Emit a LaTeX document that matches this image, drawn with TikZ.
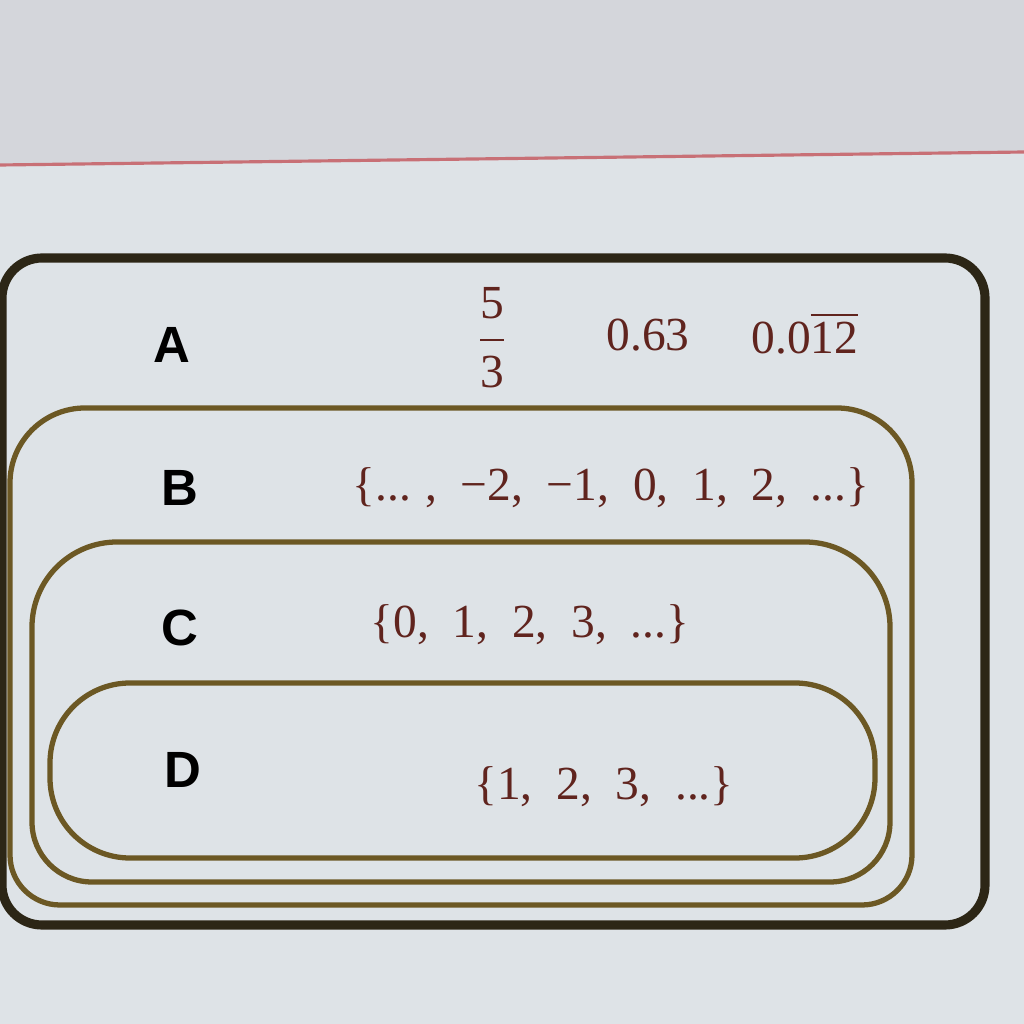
\documentclass[tikz,border=0pt]{standalone}
\usepackage{amsmath}
\usepackage{fontspec}
\setmainfont{Liberation Serif}
\newfontfamily\letterfont{Liberation Sans}
\newfontfamily\memberfont[WordSpace=2]{Liberation Serif}
\usepackage{tikz}
\usetikzlibrary{positioning,calc}

\definecolor{screenbg}{RGB}{222,227,231}
\definecolor{topbg}{RGB}{212,214,219}
\definecolor{redline}{RGB}{200,112,118}
\definecolor{outerline}{RGB}{44,38,22}
\definecolor{setline}{RGB}{108,88,36}
\definecolor{numtext}{RGB}{96,36,30}

\begin{document}
\begin{tikzpicture}
    % Define styles
    \tikzset{
        setbox/.style={draw=setline, line width=1.5pt},
        outerbox/.style={draw=outerline, line width=2.6pt, rounded corners=0.4cm},
        setname/.style={font=\letterfont\bfseries\fontsize{14.5}{16}\selectfont, text=black},
        members/.style={font=\memberfont\fontsize{13.5}{15}\selectfont, text=numtext}
    }

    % Background of the screen
    \useasboundingbox (0,0) rectangle (10.24,10.24);
    \fill[screenbg] (0,0) rectangle (10.24,10.24);
    \fill[topbg] (0,8.6) -- (10.24,8.72) -- (10.24,10.24) -- (0,10.24) -- cycle;
    \coordinate (line_l) at (0,8.59);
    \coordinate (line_r) at (10.24,8.72);
    \draw[redline, line width=0.9pt] (line_l) -- (line_r);

    % Draw the nested sets (bigger round at the top corners)
    \draw[outerbox] (0.02,0.99) rectangle (9.85,7.66);
    \draw[setbox] (0.10,3.6) [rounded corners=0.75cm] -- (0.10,6.16) -- (9.12,6.16) -- (9.12,3.6)
        [rounded corners=0.5cm] -- (9.12,1.19) -- (0.10,1.19) -- cycle;
    \draw[setbox] (0.32,3.1) [rounded corners=0.85cm] -- (0.32,4.82) -- (8.90,4.82) -- (8.90,3.1)
        [rounded corners=0.6cm] -- (8.90,1.42) -- (0.32,1.42) -- cycle;
    \draw[setbox, rounded corners=0.8cm] (0.50,1.66) rectangle (8.75,3.41);

    % Place set names
    \node[setname] (nameA) at (1.72,6.79) {A};
    \node[setname] (nameB) at (1.80,5.36) {B};
    \node[setname] (nameC) at (1.80,3.96) {C};
    \node[setname] (nameD) at (1.83,2.54) {D};

    % Place members
    \node[members] (frac) at (4.92,6.86) {$\dfrac{\text{5}}{\text{3}}$};
    \node[members] (dec) at (6.48,6.89) {0.63};
    \node[members] (rep) at (8.05,6.91) {0.0$\overline{\text{12}}$};
    \node[members] (integers) at (6.11,5.36) {\{...\kern0.3em, −2, −1, 0, 1, 2, ...\}};
    \node[members] (whole) at (5.30,3.99) {\{0, 1, 2, 3, ...\}};
    \node[members] (natural) at (6.04,2.37) {\{1, 2, 3, ...\}};
\end{tikzpicture}
\end{document}
